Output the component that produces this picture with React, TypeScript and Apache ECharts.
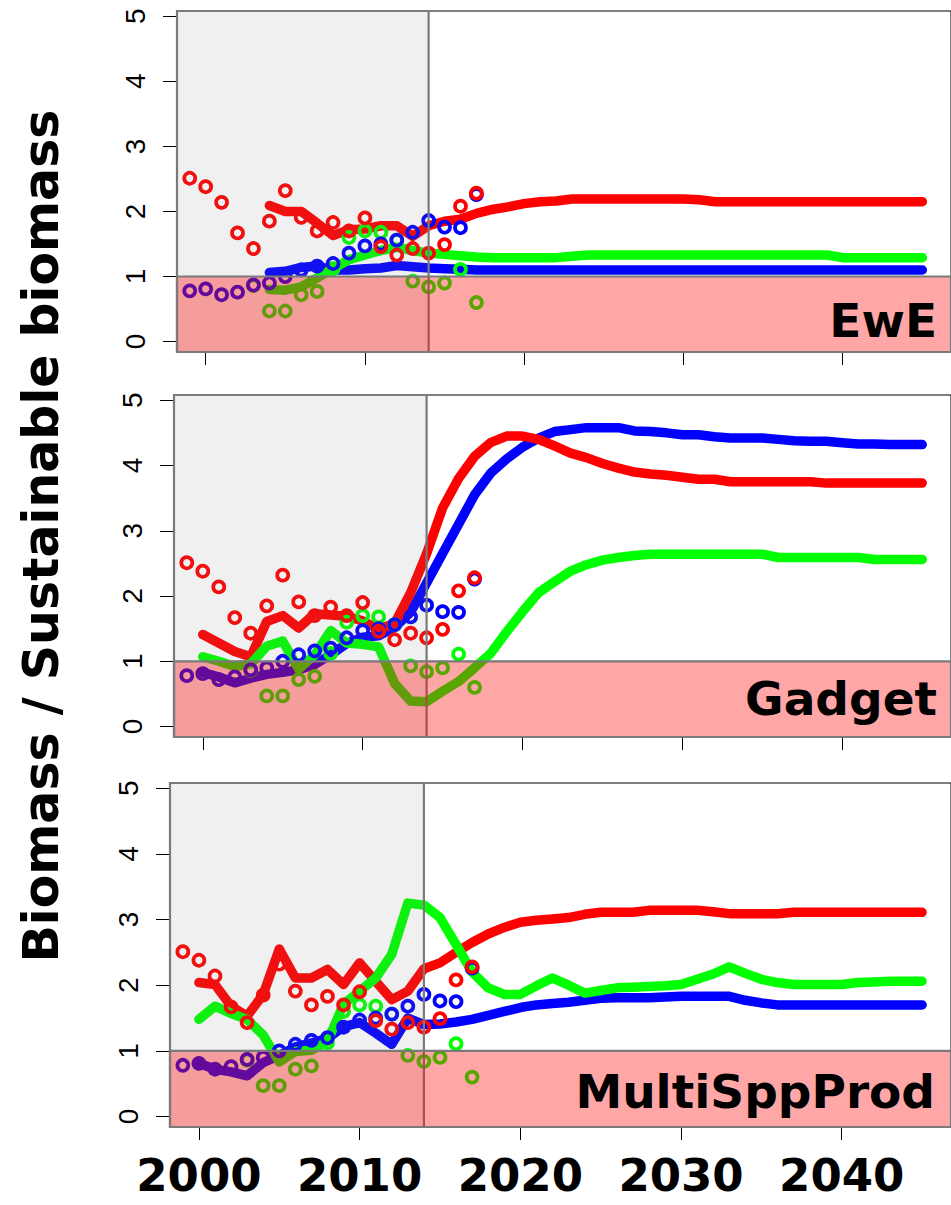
import React, { useEffect, useRef } from "react";
import * as echarts from "echarts";

// ---------- data ----------
const OBS_YEARS = [1998, 1999, 2000, 2001, 2002, 2003, 2004, 2005, 2006, 2007, 2008, 2009, 2010, 2011, 2012, 2013, 2014, 2015, 2016, 2017];
const OBS_RED = [2.5, 2.51, 2.38, 2.14, 1.67, 1.43, 1.85, 2.32, 1.91, 1.7, 1.83, 1.7, 1.9, 1.46, 1.33, 1.43, 1.36, 1.49, 2.08, 2.28];
const OBS_BLUE = [0.9, 0.78, 0.81, 0.72, 0.76, 0.87, 0.9, 1.0, 1.1, 1.16, 1.2, 1.36, 1.47, 1.5, 1.56, 1.68, 1.86, 1.76, 1.75, 2.26];
const OBS_GREEN_YEARS = [2003, 2004, 2005, 2006, 2007, 2008, 2009, 2010, 2011, 2012, 2013, 2014, 2015, 2016, 2017];
const OBS_GREEN = [0.86, 0.47, 0.47, 0.72, 0.77, 1.12, 1.6, 1.7, 1.68, 1.56, 0.93, 0.84, 0.9, 1.11, 0.6];

const EWE_START = 2004;
const EWE_RED = [
  2.09, 2.0, 2.0, 1.82, 1.63, 1.72, 1.73, 1.78, 1.78, 1.62,
  1.78, 1.85, 1.88, 1.97, 2.03, 2.07, 2.12, 2.15, 2.16, 2.19,
  2.19, 2.19, 2.19, 2.19, 2.19, 2.19, 2.19, 2.18, 2.15, 2.15,
  2.15, 2.15, 2.15, 2.15, 2.15, 2.15, 2.15, 2.15,
  2.15, 2.15, 2.15, 2.15,
];
const EWE_BLUE = [
  1.06, 1.08, 1.14, 1.16, 1.1, 1.1, 1.12, 1.13, 1.17, 1.15,
  1.13, 1.12, 1.11, 1.1, 1.1, 1.1, 1.1, 1.1, 1.1, 1.1,
  1.1, 1.1, 1.1, 1.1, 1.1, 1.1, 1.1, 1.1, 1.1, 1.1,
  1.1, 1.1, 1.1, 1.1, 1.1, 1.1, 1.1, 1.1, 1.1, 1.1, 1.1, 1.1,
];
const EWE_GREEN = [
  0.8, 0.79, 0.84, 0.98, 1.12, 1.26, 1.33, 1.4, 1.45, 1.4,
  1.36, 1.34, 1.32, 1.3, 1.29, 1.29, 1.29, 1.29, 1.29, 1.31,
  1.33, 1.33, 1.33, 1.33, 1.33, 1.33, 1.33, 1.33, 1.33, 1.33,
  1.33, 1.33, 1.33, 1.33, 1.33, 1.33,
  1.29, 1.29, 1.29, 1.29, 1.29, 1.29,
];

const GADGET_START = 2000;
const GADGET_RED = [
  1.41, 1.28, 1.15, 1.07, 1.61, 1.7, 1.51, 1.73, 1.71, 1.69,
  1.62, 1.49, 1.58, 2.05, 2.65, 3.35, 3.8, 4.14, 4.35, 4.45,
  4.45, 4.4, 4.3, 4.19, 4.12, 4.03, 3.96, 3.9, 3.87, 3.85,
  3.82, 3.79, 3.79, 3.75, 3.75, 3.75, 3.75, 3.75, 3.75, 3.73,
  3.73, 3.73, 3.73, 3.73, 3.73, 3.73,
];
const GADGET_BLUE = [
  0.83, 0.76, 0.67, 0.74, 0.8, 0.83, 0.87, 0.95, 1.1, 1.27,
  1.37, 1.39, 1.52, 1.75, 2.2, 2.65, 3.1, 3.55, 3.88, 4.1,
  4.28, 4.42, 4.52, 4.55, 4.58, 4.58, 4.58, 4.53, 4.52, 4.5,
  4.47, 4.47, 4.44, 4.42, 4.42, 4.42, 4.4, 4.38, 4.37, 4.37,
  4.35, 4.33, 4.33, 4.32, 4.32, 4.32,
];
const GADGET_GREEN = [
  1.07, 1.0, 0.92, 0.96, 1.23, 1.31, 0.88, 1.1, 1.47, 1.28,
  1.26, 1.22, 0.66, 0.39, 0.38, 0.54, 0.69, 0.9, 1.12, 1.45,
  1.76, 2.05, 2.22, 2.38, 2.48, 2.55, 2.59, 2.62, 2.64, 2.64,
  2.64, 2.64, 2.64, 2.64, 2.64, 2.64, 2.59, 2.59, 2.59, 2.59,
  2.59, 2.59, 2.56, 2.56, 2.56, 2.56,
];

const MSP_START = 2000;
const MSP_RED = [
  2.04, 2.01, 1.68, 1.53, 1.86, 2.55, 2.11, 2.11, 2.24, 2.01,
  2.34, 2.06, 1.78, 1.91, 2.25, 2.34, 2.5, 2.65, 2.78, 2.88,
  2.96, 2.99, 3.01, 3.03, 3.08, 3.11, 3.11, 3.11, 3.14, 3.14,
  3.14, 3.14, 3.12, 3.09, 3.09, 3.09, 3.09, 3.11, 3.11, 3.11,
  3.11, 3.11, 3.11, 3.11, 3.11, 3.11,
];
const MSP_BLUE = [
  0.81, 0.72, 0.68, 0.62, 0.82, 0.93, 1.06, 1.12, 1.19, 1.37,
  1.43, 1.27, 1.1, 1.5, 1.4, 1.41, 1.44, 1.48, 1.54, 1.6,
  1.66, 1.7, 1.72, 1.74, 1.77, 1.8, 1.81, 1.81, 1.81, 1.82,
  1.83, 1.83, 1.83, 1.83, 1.77, 1.73, 1.7, 1.7, 1.7, 1.7,
  1.7, 1.7, 1.7, 1.7, 1.7, 1.7,
];
const MSP_GREEN = [
  1.48, 1.68, 1.57, 1.48, 1.24, 0.83, 0.99, 1.01, 1.14, 1.71,
  1.91, 2.11, 2.47, 3.25, 3.22, 3.03, 2.62, 2.2, 1.96, 1.86,
  1.86, 1.99, 2.11, 2.0, 1.88, 1.92, 1.96, 1.97, 1.98, 1.99,
  2.01, 2.09, 2.17, 2.28, 2.18, 2.09, 2.04, 2.01, 2.01, 2.01,
  2.01, 2.04, 2.05, 2.06, 2.06, 2.06,
];

const PANEL_NAMES = ["EwE", "Gadget", "MultiSppProd"];
const X_TICKS = [2000, 2010, 2020, 2030, 2040];
const Y_TICKS = [0, 1, 2, 3, 4, 5];
const HIST_END = 2014;
const THRESHOLD = 1;
const Y_TITLE = "Biomass / Sustainable biomass";

// ---------- styling / layout ----------
const RED = "#FF0000";
const BLUE = "#0000FF";
const GREEN = "#00FF00";
const X_MIN = 1998.2;
const X_MAX = 2046.8;
const Y_MIN = -0.16;
const Y_MAX = 5.08;
const GRIDS = [
  { left: 177, top: 11, width: 783, height: 341 },
  { left: 174, top: 395, width: 783, height: 342 },
  { left: 170, top: 783, width: 783, height: 344 },
];
const LABEL_POS = [
  { x: 937, y: 320 },
  { x: 937, y: 698 },
  { x: 935, y: 1091 },
];

const PANELS = [
  { start: EWE_START, red: EWE_RED, blue: EWE_BLUE, green: EWE_GREEN },
  { start: GADGET_START, red: GADGET_RED, blue: GADGET_BLUE, green: GADGET_GREEN },
  { start: MSP_START, red: MSP_RED, blue: MSP_BLUE, green: MSP_GREEN },
];

const toPairs = (start: number, vals: number[]) => vals.map((v, i) => [start + i, v]);
const zip = (xs: number[], ys: number[]) => xs.map((x, i) => [x, ys[i]]);

function buildOption() {
  const xAxis: any[] = [];
  const yAxis: any[] = [];
  const series: any[] = [];
  const overlays: any[] = [];

  GRIDS.forEach((_, i) => {
    xAxis.push({
      type: "value",
      gridIndex: i,
      min: X_MIN,
      max: X_MAX,
      axisLine: { show: true, onZero: false, lineStyle: { color: "#000", width: 1 } },
      axisTick: { show: true, length: 13, customValues: X_TICKS, lineStyle: { color: "#000", width: 1 } },
      axisLabel: {
        show: i === 2,
        customValues: X_TICKS,
        formatter: (v: number) => String(Math.round(v)),
        fontSize: 45,
        lineHeight: 34,
        fontWeight: "bold",
        fontFamily: "DejaVu Sans",
        color: "#000",
        margin: 31,
      },
      splitLine: { show: false },
    });
    yAxis.push({
      type: "value",
      gridIndex: i,
      min: Y_MIN,
      max: Y_MAX,
      axisLine: { show: true, onZero: false, lineStyle: { color: "#000", width: 1 } },
      axisTick: { show: true, length: 14, customValues: Y_TICKS, lineStyle: { color: "#000", width: 1 } },
      axisLabel: {
        customValues: Y_TICKS,
        formatter: (v: number) => String(Math.round(v)),
        rotate: 90,
        fontSize: 28,
        fontFamily: "Liberation Sans",
        color: "#000",
        margin: 28,
      },
      splitLine: { show: false },
    });

    const p = PANELS[i];
    const lineBase = {
      type: "line",
      xAxisIndex: i,
      yAxisIndex: i,
      showSymbol: false,
      symbol: "none",
      smooth: false,
      silent: true,
      z: 2,
    };
    const ls = (c: string) => ({ color: c, width: 9.5, cap: "round", join: "round" });
    series.push({ ...lineBase, name: `blue${i}`, data: toPairs(p.start, p.blue), lineStyle: ls(BLUE) });
    series.push({ ...lineBase, name: `red${i}`, data: toPairs(p.start, p.red), lineStyle: ls(RED) });
    series.push({ ...lineBase, name: `green${i}`, data: toPairs(p.start, p.green), lineStyle: ls(GREEN) });

    const sc = (c: string, data: number[][]) => ({
      type: "scatter",
      xAxisIndex: i,
      yAxisIndex: i,
      symbol: "circle",
      symbolSize: 11,
      clip: true,
      silent: true,
      z: 3,
      itemStyle: { color: "rgba(0,0,0,0)", borderColor: c, borderWidth: 3.7, opacity: 1 },
      data,
    });
    series.push(sc(GREEN, zip(OBS_GREEN_YEARS, OBS_GREEN)));
    series.push(sc(BLUE, zip(OBS_YEARS, OBS_BLUE)));
    series.push(sc(RED, zip(OBS_YEARS, OBS_RED)));

    overlays.push({
      type: "line",
      xAxisIndex: i,
      yAxisIndex: i,
      symbol: "none",
      silent: true,
      lineStyle: { opacity: 0 },
      data: [[2000, 0]],
      z: 10,
      markArea: {
        z: 10,
        silent: true,
        label: { show: false },
        data: [
          [
            { coord: [X_MIN, Y_MIN], itemStyle: { color: "rgba(128,128,128,0.12)", borderColor: "#7a7a7a", borderWidth: 2.2 } },
            { coord: [HIST_END, Y_MAX] },
          ],
        ],
      },
    });
    overlays.push({
      type: "line",
      xAxisIndex: i,
      yAxisIndex: i,
      symbol: "none",
      silent: true,
      lineStyle: { opacity: 0 },
      data: [[2000, 0]],
      z: 11,
      markArea: {
        z: 11,
        silent: true,
        label: { show: false },
        data: [
          [
            { coord: [X_MIN, Y_MIN], itemStyle: { color: "rgba(255,0,0,0.35)", borderColor: "#7a7a7a", borderWidth: 2.2 } },
            { coord: [X_MAX, THRESHOLD] },
          ],
        ],
      },
    });
  });

  const graphic: any[] = [
    {
      type: "text",
      x: 41,
      y: 536,
      rotation: Math.PI / 2,
      z: 100,
      style: {
        text: Y_TITLE,
        fontSize: 49,
        fontWeight: "bold",
        fontFamily: "DejaVu Sans",
        fill: "#000",
        textAlign: "center",
        textVerticalAlign: "middle",
      },
    },
  ];
  PANEL_NAMES.forEach((name, i) => {
    graphic.push({
      type: "text",
      x: LABEL_POS[i].x,
      y: LABEL_POS[i].y,
      z: 100,
      style: {
        text: name,
        fontSize: 47,
        fontWeight: "bold",
        fontFamily: "DejaVu Sans",
        fill: "#000",
        textAlign: "right",
        textVerticalAlign: "middle",
      },
    });
  });

  return {
    animation: false,
    backgroundColor: "#fff",
    grid: GRIDS.map((g) => ({ ...g, show: true, borderColor: "#000", borderWidth: 1, backgroundColor: "transparent" })),
    xAxis,
    yAxis,
    series: [...series, ...overlays],
    graphic,
  };
}

export default function App() {
  const ref = useRef<HTMLDivElement>(null);
  useEffect(() => {
    if (!ref.current) return;
    const chart = echarts.init(ref.current, undefined, { renderer: "svg" });
    chart.setOption(buildOption() as any);
    return () => chart.dispose();
  }, []);
  return (
    <div
      ref={ref}
      style={{ position: "absolute", left: 0, top: 0, width: 951, height: 1205, overflow: "hidden", background: "#fff" }}
    />
  );
}
